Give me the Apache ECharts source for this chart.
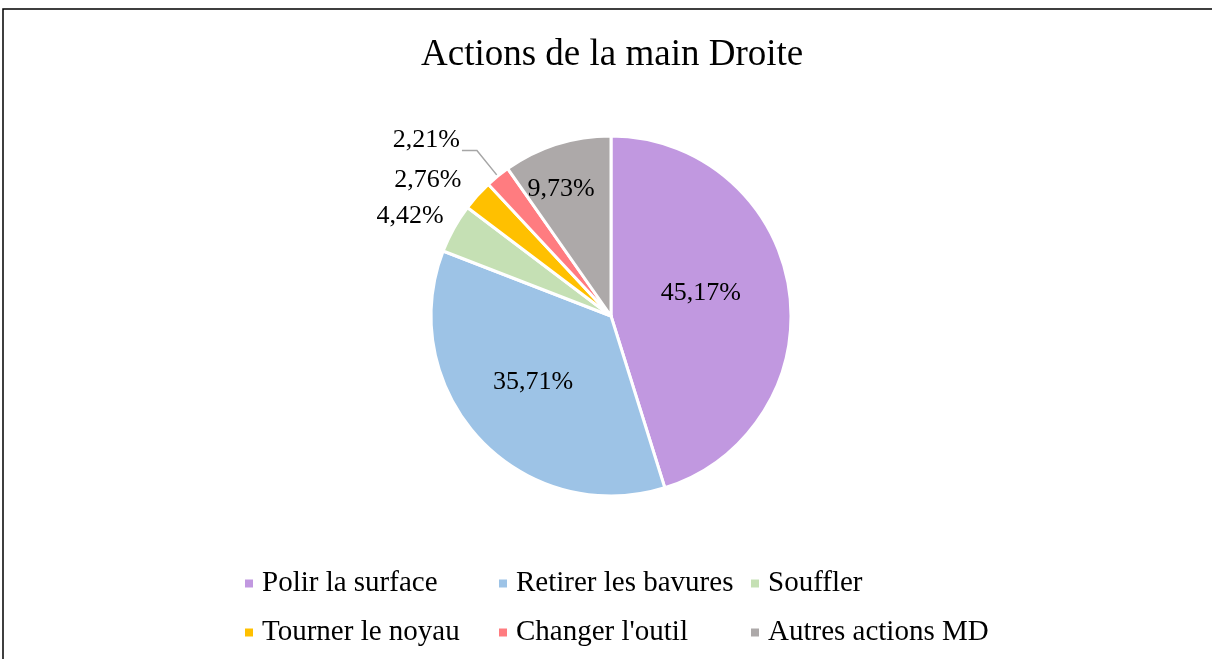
<!DOCTYPE html>
<html lang="fr">
<head>
    <meta charset="UTF-8">
    <title>Actions de la main Droite</title>
    <script src="https://cdn.jsdelivr.net/npm/echarts@6/dist/echarts.min.js"></script>
    <style>
        html, body { margin: 0; height: 100%; background: #fff; }
        #chart { width: 1212px; height: 659px; }
    </style>
</head>
<body>
<div id="chart"></div>
<script>
    var categories = ['Polir la surface', 'Retirer les bavures', 'Souffler', 'Tourner le noyau', "Changer l'outil", 'Autres actions MD'];
    var values = [45.17, 35.71, 4.42, 2.76, 2.21, 9.73];
    var colors = ['#C198E0', '#9DC3E6', '#C5E0B4', '#FFC000', '#FF7C80', '#ADA9A9'];

    var font = '"Liberation Serif", "Times New Roman", serif';

    // placement des étiquettes (à la manière d'Excel)
    var labelPos = ['inside', 'inside', 'outside', 'outside', 'outside', 'inside'];
    var labelShift = [[-2, -9], [-10, 3], [18, -2], [8, -2], [3, -10], [-22, -38]];
    var lineLen = [0, 0, 22, 20, 33, 0];
    var lineLen2 = [0, 0, 4, 4, 15, 0];
    var lineShow = [false, false, false, false, true, false];

    var data = categories.map(function (name, i) {
        return {
            name: name,
            value: values[i],
            itemStyle: { color: colors[i] },
            label: { position: labelPos[i], offset: labelShift[i] },
            labelLine: { show: lineShow[i], length: lineLen[i], length2: lineLen2[i] }
        };
    });

    function legendCol(left, names) {
        return {
            orient: 'vertical',
            left: left,
            top: 569,
            padding: 0,
            itemGap: 20,
            itemWidth: 10,
            itemHeight: 10,
            icon: 'rect',
            data: names,
            textStyle: { fontFamily: font, fontSize: 29, color: '#000', padding: [0, 0, 0, 3] }
        };
    }

    var chart = echarts.init(document.getElementById('chart'));
    chart.setOption({
        animation: false,
        title: {
            text: 'Actions de la main Droite',
            left: 416,
            top: 32,
            textStyle: { fontFamily: font, fontSize: 37, fontWeight: 'normal', color: '#000' }
        },
        graphic: [{
            type: 'rect',
            shape: { x: 3, y: 9, width: 1230, height: 700 },
            style: { fill: 'none', stroke: '#000', lineWidth: 1.5 },
            silent: true
        }],
        legend: [
            legendCol(243, [categories[0], categories[3]]),
            legendCol(497, [categories[1], categories[4]]),
            legendCol(749, [categories[2], categories[5]])
        ],
        series: [{
            type: 'pie',
            center: [611, 316],
            radius: [0, 180],
            startAngle: 90,
            clockwise: true,
            avoidLabelOverlap: false,
            itemStyle: { borderColor: '#fff', borderWidth: 3 },
            label: {
                fontFamily: font,
                fontSize: 26,
                color: '#000',
                formatter: function (p) { return p.value.toFixed(2).replace('.', ',') + '%'; }
            },
            labelLine: { lineStyle: { color: '#A6A6A6', width: 1.5 } },
            data: data
        }]
    });
</script>
</body>
</html>
